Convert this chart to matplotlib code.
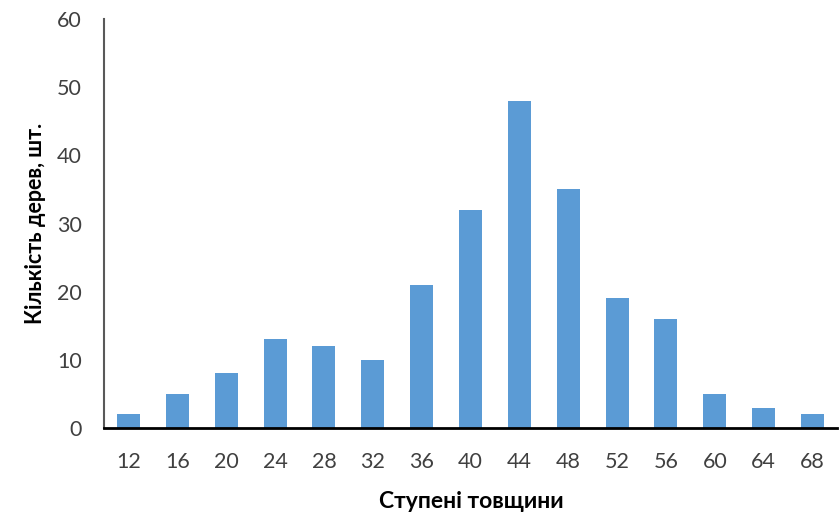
import numpy as np
import matplotlib
matplotlib.use("Agg")
import matplotlib.pyplot as plt

# thickness classes and number of trees
classes = ["12", "16", "20", "24", "28", "32", "36", "40",
           "44", "48", "52", "56", "60", "64", "68"]
counts = [2, 5, 8, 13, 12, 10, 21, 32, 48, 35, 19, 16, 5, 3, 2]

plt.rcParams['font.family'] = ['Lato', 'DejaVu Sans']

fig = plt.figure(figsize=(8.39, 5.18), dpi=100)
ax = fig.add_axes([104/839, 1 - 428/518, (837-104)/839, (428-19)/518])

x = np.arange(len(classes))
ax.bar(x, counts, width=0.47, color="#5B9BD5")

ax.set_xlim(-0.5, len(classes) - 0.5)
ax.set_ylim(0, 60)
ax.set_yticks(range(0, 61, 10))
ax.set_xticks(x)
ax.set_xticklabels(classes)

for s in ["top", "right"]:
    ax.spines[s].set_visible(False)
ax.spines["left"].set_color("#595959")
ax.spines["left"].set_linewidth(1.5)
ax.spines["bottom"].set_color("black")
ax.spines["bottom"].set_linewidth(2)

ax.tick_params(axis="y", length=0, pad=16, labelsize=15.5, labelcolor="#404040")
ax.tick_params(axis="x", length=0, pad=17, labelsize=15.5, labelcolor="#404040")

ax.set_ylabel("Кількість дерев, шт.", fontsize=15.5, fontweight="bold", labelpad=8)
fig.text(471/839, 1 - 502/518, "Ступені товщини", fontsize=16.5,
         fontweight="bold", ha="center", va="center")

fig.savefig("out.png", dpi=100)
